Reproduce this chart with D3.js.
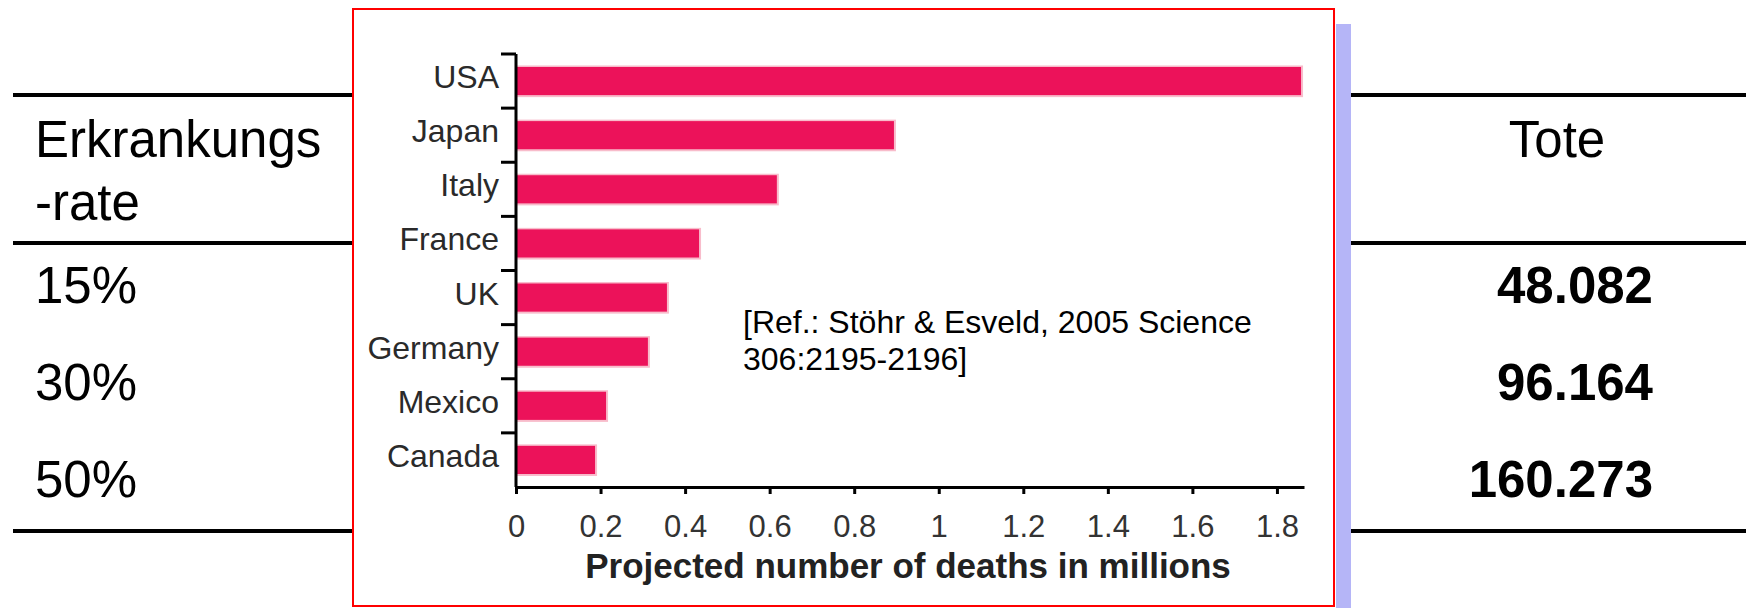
<!DOCTYPE html>
<meta charset="utf-8">
<style>
body{
	margin:0;
	background:#fff;
	font-family:"Liberation Sans", Arial, sans-serif;
}
text{
	font-family:"Liberation Sans", Arial, sans-serif;
}
.rule{
	stroke:#000;
	stroke-width:4px;
}
.axis path, .axis line{
	stroke:#000;
	stroke-width:3px;
}
</style>
<body>
<script src="https://d3js.org/d3.v7.min.js"></script>
<script>
// chart data
var countries = ["USA", "Japan", "Italy", "France", "UK", "Germany", "Mexico", "Canada"];
var deaths = [1.857, 0.894, 0.617, 0.433, 0.357, 0.312, 0.213, 0.187];
var xTicks = [0, 0.2, 0.4, 0.6, 0.8, 1, 1.2, 1.4, 1.6, 1.8];

// table beside the chart
var rateHeader = ["Erkrankungs", "-rate"];
var rates = ["15%", "30%", "50%"];
var deadHeader = "Tote";
var deadValues = ["48.082", "96.164", "160.273"];

var W = 1746, H = 608;
var svg = d3.select("body").append("svg").attr("width", W).attr("height", H);

// table rules, left and right of the picture
var ruleY = [95, 243, 531];
ruleY.forEach(function(y){
	svg.append("line").attr("class","rule").attr("x1",13).attr("x2",355).attr("y1",y).attr("y2",y);
	svg.append("line").attr("class","rule").attr("x1",1351).attr("x2",W).attr("y1",y).attr("y2",y);
});

var rowY = d3.scalePoint().domain(d3.range(rates.length)).range([303, 497]);

svg.selectAll(".hdr").data(rateHeader).enter().append("text")
	.attr("x",35).attr("y",(d,i)=>157 + i*63)
	.style("font-size","51px").text(d=>d);

svg.selectAll(".rate").data(rates).enter().append("text")
	.attr("x",35).attr("y",(d,i)=>rowY(i))
	.style("font-size","51px").text(d=>d);

svg.append("text").attr("x",1557).attr("y",157)
	.attr("text-anchor","middle").style("font-size","51px").text(deadHeader);

svg.selectAll(".dead").data(deadValues).enter().append("text")
	.attr("x",1653).attr("y",(d,i)=>rowY(i))
	.attr("text-anchor","end").style("font-size","51px").style("font-weight","bold")
	.text(d=>d);

// lavender strip behind the picture
svg.append("rect").attr("x",1336).attr("y",24).attr("width",15).attr("height",H-24).attr("fill","#b5b5f7");

// picture frame
svg.append("rect").attr("x",353).attr("y",9).attr("width",981).attr("height",597)
	.attr("fill","#fff").attr("stroke","#f00").attr("stroke-width",2);

// bar chart
var x = d3.scaleLinear().domain([0, 1.864]).range([516, 1304]);
var y = d3.scaleBand().domain(countries).range([54, 487]).padding(0);
var barH = y.bandwidth() * 0.52;

var bars = svg.append("g");
countries.forEach(function(c, i){
	var y0 = y(c) + (y.bandwidth() - barH) / 2;
	// soft pink edge like the scanned bars
	bars.append("rect").attr("x",x(0)).attr("y",y0 - 1.5)
		.attr("width",x(deaths[i]) - x(0) + 2).attr("height",barH + 3.5).attr("fill","#f8bccb");
	bars.append("rect").attr("x",x(0)).attr("y",y0)
		.attr("width",x(deaths[i]) - x(0)).attr("height",barH).attr("fill","#ec125a");
});

// y axis with ticks between the bands
var yAxis = svg.append("g").attr("class","axis");
yAxis.append("line").attr("x1",x(0)).attr("x2",x(0)).attr("y1",y.range()[0]).attr("y2",y.range()[1]);
countries.forEach(function(c){
	yAxis.append("line").attr("x1",x(0) - 15).attr("x2",x(0)).attr("y1",y(c)).attr("y2",y(c));
	yAxis.append("text").attr("x",x(0) - 17).attr("y",y(c) + y.bandwidth()/2 + 7)
		.attr("text-anchor","end").style("font-size","32px").attr("fill","#2a2a2a").attr("stroke","none")
		.text(c);
});

// x axis
var xAxis = svg.append("g").attr("class","axis").attr("transform","translate(0,487)")
	.call(d3.axisBottom(x).tickValues(xTicks).tickSize(7).tickSizeOuter(0)
		.tickFormat(d=>String(Math.round(d*10)/10)));
xAxis.selectAll("text").attr("y",50).attr("dy",null)
	.style("font-size","31px").attr("fill","#333");

svg.append("text").attr("x",908).attr("y",578).attr("text-anchor","middle")
	.style("font-size","35px").style("font-weight","bold").attr("fill","#222")
	.text("Projected number of deaths in millions");

// reference note
var ref = svg.append("text").style("font-size","32px").attr("fill","#000");
ref.append("tspan").attr("x",743).attr("y",333).text("[Ref.: Stöhr & Esveld, 2005 Science");
ref.append("tspan").attr("x",743).attr("y",370).text("306:2195-2196]");
</script>
</body>
